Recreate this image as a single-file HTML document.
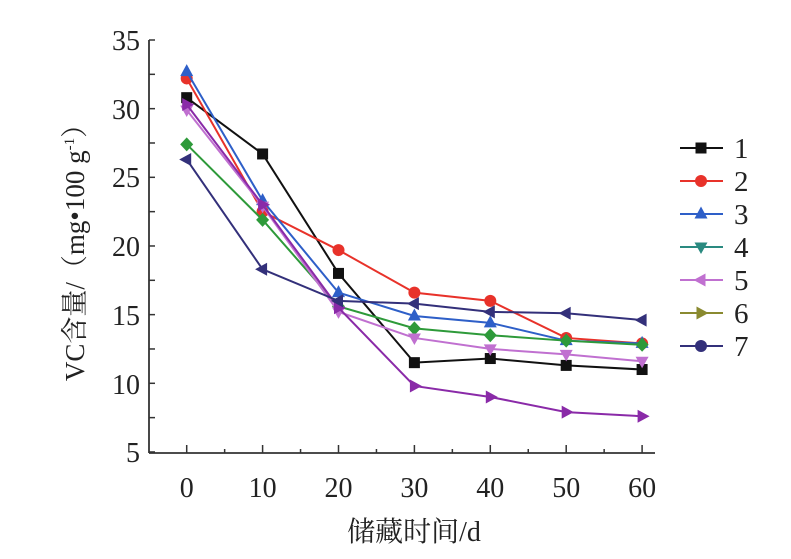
<!DOCTYPE html>
<html><head><meta charset="utf-8"><style>
html,body{margin:0;padding:0;background:#fff;width:791px;height:559px;overflow:hidden}
text{font-family:"Liberation Serif","Noto Serif CJK SC",serif;fill:#222}
</style></head><body>
<svg width="791" height="559" viewBox="0 0 791 559">
<defs>
<g id="sq"><rect x="-5.5" y="-5.5" width="11" height="11"/></g>
<g id="ci"><circle r="6"/></g>
<g id="up"><polygon points="0,-7.5 6.5,4.5 -6.5,4.5"/></g>
<g id="dn"><polygon points="0,7 6.5,-4.5 -6.5,-4.5"/></g>
<g id="lt"><polygon points="-7.5,0 4.5,-6.5 4.5,6.5"/></g>
<g id="rt"><polygon points="7.5,0 -4.5,-6.5 -4.5,6.5"/></g>
<g id="di"><polygon points="0,-7 6.5,0 0,7 -6.5,0"/></g>
</defs>
<g stroke="#333" stroke-width="1.8" fill="none">
<line x1="149" y1="40" x2="149" y2="453"/>
<line x1="149" y1="453" x2="655" y2="453"/>
</g>
<g id="ax" stroke="#333" stroke-width="1.5"></g>
<g id="ser"></g>
<g font-size="28">
<text x="140" y="50" text-anchor="end">35</text>
<text x="140" y="119" text-anchor="end">30</text>
<text x="140" y="187" text-anchor="end">25</text>
<text x="140" y="256" text-anchor="end">20</text>
<text x="140" y="325" text-anchor="end">15</text>
<text x="140" y="394" text-anchor="end">10</text>
<text x="140" y="462" text-anchor="end">5</text>
<text x="186.7" y="497" text-anchor="middle">0</text>
<text x="262.6" y="497" text-anchor="middle">10</text>
<text x="338.5" y="497" text-anchor="middle">20</text>
<text x="414.4" y="497" text-anchor="middle">30</text>
<text x="490.3" y="497" text-anchor="middle">40</text>
<text x="566.2" y="497" text-anchor="middle">50</text>
<text x="642.1" y="497" text-anchor="middle">60</text>
</g>
<text x="414" y="541" font-size="28" text-anchor="middle">储藏时间/d</text>
<text transform="translate(84,246) rotate(-90)" font-size="27" text-anchor="middle">VC含量/（mg•100 g<tspan font-size="15" dy="-10">-1</tspan><tspan dy="10">）</tspan></text>
<g id="leg" font-size="29"></g>
</svg>
<script>
var ax=document.getElementById('ax'),s='';
for(var i=0;i<13;i++){var y=40+i*34.33;s+='<line x1="149" y1="'+y+'" x2="155" y2="'+y+'"/>';}
for(var i=0;i<13;i++){var x=186.7+i*37.95;var l=i%2==0?8:4;s+='<line x1="'+x+'" y1="453" x2="'+x+'" y2="'+(453-l)+'"/>';}
ax.innerHTML=s;
function X(i){return 186.7+i*75.9}function Y(v){return 40+(35-v)*13.73}
var S=[
['#111','sq',[30.8,26.7,18.0,11.5,11.8,11.3,11.0]],
['#e8322a','ci',[32.2,22.5,19.7,16.6,16.0,13.3,12.9]],
['#2e5fc8','up',[32.7,23.3,16.6,14.9,14.4,13.1,12.9]],
['#2e9a3a','di',[27.4,21.9,15.6,14.0,13.5,13.1,12.8]],
['#c070d0','dn',[29.9,22.9,15.2,13.3,12.5,12.1,11.6]],
['#8a2aa8','rt',[30.3,23.0,15.5,9.8,9.0,7.9,7.6]],
['#33307a','lt',[26.3,18.3,16.0,15.8,15.2,15.1,14.6]]];
var h='';
S.forEach(function(a){var p=a[2].map(function(v,i){return X(i)+','+Y(v)}).join(' ');
h+='<polyline points="'+p+'" fill="none" stroke="'+a[0]+'" stroke-width="2"/>';
a[2].forEach(function(v,i){h+='<use href="#'+a[1]+'" x="'+X(i)+'" y="'+Y(v)+'" fill="'+a[0]+'"/>';});});
document.getElementById('ser').innerHTML=h;
var L=[['#111','sq'],['#e8322a','ci'],['#2e5fc8','up'],['#2a8a80','dn'],['#c070d0','lt'],['#8a8a30','rt'],['#33307a','ci']];
var g='';L.forEach(function(a,i){var y=148+i*33;
g+='<line x1="680" y1="'+y+'" x2="723" y2="'+y+'" stroke="'+a[0]+'" stroke-width="2"/><use href="#'+a[1]+'" x="701" y="'+y+'" fill="'+a[0]+'"/><text x="734" y="'+(y+10)+'">'+(i+1)+'</text>';});
document.getElementById('leg').innerHTML=g;
</script>
</body></html>
